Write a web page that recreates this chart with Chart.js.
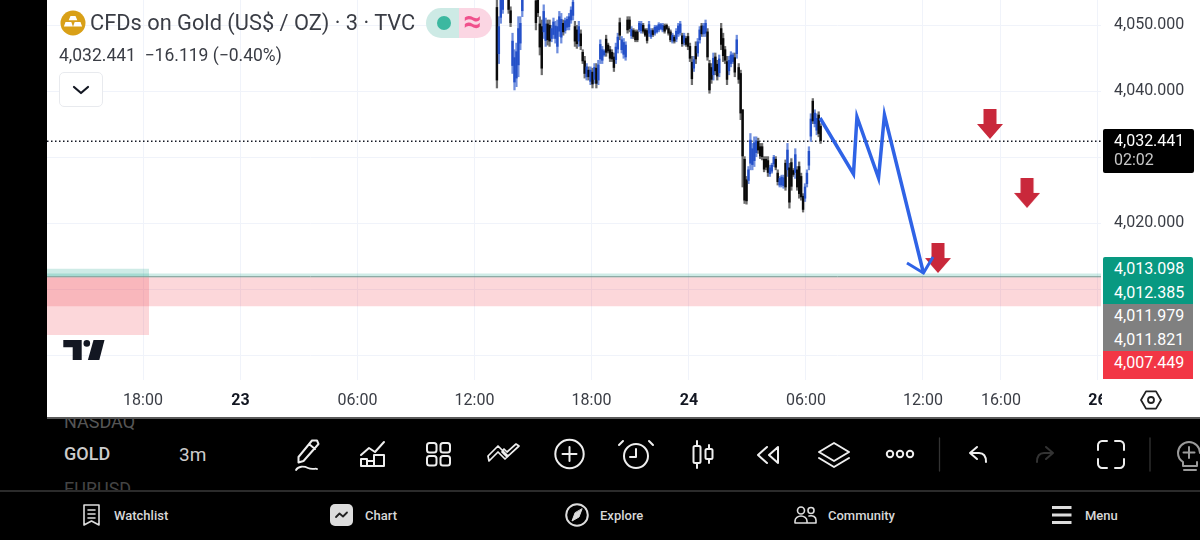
<!DOCTYPE html>
<html>
<head>
<meta charset="utf-8">
<title>CFDs on Gold</title>
<script src="https://cdn.jsdelivr.net/npm/chart.js@4"></script>
<style>
html, body { margin: 0; padding: 0; background: #000; width: 1200px; height: 540px; overflow: hidden; font-family: Roboto, sans-serif; }
#cpk { position: absolute; left: 47px; top: 0; }
.abs { position: absolute; white-space: nowrap; }
#titulo { left: 90px; top: 9px; font-size: 21.8px; line-height: 28px; color: #3a3d45; }
#precio { left: 59px; top: 44px; font-size: 17.5px; line-height: 22px; color: #3a3d45; }
#chevron { left: 59px; top: 72px; width: 42px; height: 33px; border: 1.5px solid #e8eaee; border-radius: 5px; background: #fff; }
#pill { left: 426px; top: 8px; width: 66px; height: 30px; border-radius: 15px; overflow: hidden; background: linear-gradient(90deg, #cdeae5 50%, #fbd6e3 50%); }
#ondas { left: 463px; top: 4px; font-size: 32px; line-height: 34px; font-weight: 700; color: #f0508c; }
#tapa { left: 1102px; top: 381px; width: 98px; height: 36px; background: #fff; }
#linea { left: 47px; top: 417px; width: 1153px; height: 1.5px; background: #5a5a5a; }
#tagNegro { left: 1103px; top: 129px; width: 91px; height: 44px; background: #000; border-radius: 2px; font-size: 16px; color: #fff; }
#tagNegro div { position: absolute; left: 11px; }
#tags { left: 1103px; top: 257px; width: 90px; height: 122px; overflow: hidden; border-radius: 2px 2px 0 0; }
#tags div { height: 23.6px; line-height: 23.6px; padding-left: 11px; font-size: 16px; color: #fff; }
#lista { left: 0; top: 418px; width: 1200px; height: 72px; overflow: hidden; font-size: 18px; }
#lista div { position: absolute; left: 64px; white-space: nowrap; }
#sep { left: 0; top: 490px; width: 1200px; height: 1.5px; background: #2b2b2b; }
.nav { top: 507px; font-size: 13px; line-height: 17px; font-weight: 500; color: #d8d8d8; }
svg { position: absolute; left: 0; top: 0; }
</style>
</head>
<body>
<canvas id="cpk" width="1153" height="417"></canvas>

<div class="abs" id="titulo">CFDs on Gold (US$ / OZ) · 3 · TVC</div>
<div class="abs" id="precio">4,032.441 &nbsp;−16.119 (−0.40%)</div>
<div class="abs" id="chevron"></div>
<div class="abs" id="pill"></div>
<div class="abs" id="ondas">≈</div>
<div class="abs" id="tapa"></div>
<div class="abs" id="linea"></div>

<div class="abs" id="tagNegro"><div style="top:1px;line-height:21px">4,032.441</div><div style="top:20px;line-height:21px;color:#c8c8c8">02:02</div></div>
<div class="abs" id="tags">
  <div style="background:#089981">4,013.098</div>
  <div style="background:#089981">4,012.385</div>
  <div style="background:#808080">4,011.979</div>
  <div style="background:#808080">4,011.821</div>
  <div style="background:#f23645">4,007.449</div>
  <div style="background:#f23645">4,006.918</div>
</div>

<div class="abs" id="lista">
  <div style="top:-7px;color:#555">NASDAQ</div>
  <div style="top:25px;color:#ccc;font-weight:500">GOLD</div>
  <div style="top:25px;left:179px;color:#ccc;font-size:19px">3m</div>
  <div style="top:60px;color:#444">EURUSD</div>
</div>
<div class="abs" id="sep"></div>
<div class="abs nav" style="left:114px">Watchlist</div>
<div class="abs nav" style="left:365px">Chart</div>
<div class="abs nav" style="left:600px">Explore</div>
<div class="abs nav" style="left:828px">Community</div>
<div class="abs nav" style="left:1085px">Menu</div>

<svg width="1200" height="540" fill="none" stroke="#eee" stroke-width="2" stroke-linecap="round" stroke-linejoin="round">
  <!-- leyenda -->
  <circle cx="73" cy="23" r="12.5" fill="#d9a017" stroke="none"/>
  <g fill="#fff" stroke="none">
    <path d="M70.5 16h5l1.8 4.2h-8.6zM65.5 22h5.8l1.6 4.5h-9zM74.7 22h5.8l1.6 4.5h-9z"/>
  </g>
  <circle cx="444" cy="23" r="7" fill="#3cb8a0" stroke="none"/>
  <path d="M74 87l7 6 7-6" stroke="#131722" stroke-width="2.2"/>
  <!-- logo -->
  <g fill="#131722" stroke="none">
    <path d="M63.3 340h18.4v20h-9v-12.7h-9.4z"/>
    <circle cx="86.8" cy="343.4" r="3.3"/>
    <path d="M93.5 340h11l-5.2 20h-11.4z"/>
  </g>
  <!-- ajustes -->
  <path d="M1141 400l5-8.6h10l5 8.6-5 8.6h-10z" stroke="#222" stroke-width="1.8"/>
  <circle cx="1151" cy="400" r="3" stroke="#222" stroke-width="1.8"/>
  <!-- barra de herramientas -->
  <path d="M312 440.5l5-0 1.5 3.5-15 17-5 1.5 0-5.5zM309 444l6 5"/>
  <path d="M296 470c2-4 8-4 12-2s8 0 9 1" stroke-width="1.8"/>
  <path d="M361 455l8-7 6 4 9-10"/>
  <path d="M361 466v-7h6v7zM367 466v-5h7v5zM374 466v-11h10v11z"/>
  <rect x="427" y="443" width="9.5" height="9.5" rx="2.5"/><rect x="440.5" y="443" width="9.5" height="9.5" rx="2.5"/>
  <rect x="427" y="456" width="9.5" height="9.5" rx="2.5"/><rect x="440.5" y="456" width="9.5" height="9.5" rx="2.5"/>
  <path d="M489 461l9-9 7 7 3-3-10-10-10 10zM502 452l5 5 12-11-3-2-9 8-3-3z" stroke-width="1.7"/>
  <circle cx="569.5" cy="454" r="14.2"/><path d="M569.5 447v14M562.5 454h14"/>
  <circle cx="636" cy="456" r="12"/><path d="M636 449v8h-6M623 441l-4 4M649 441l4 4"/>
  <path d="M697 441v27M709 445v18"/><rect x="693.5" y="446" width="7" height="17" rx="1.5" fill="#000"/><rect x="705.5" y="449" width="7" height="10" rx="1.5" fill="#000"/>
  <path d="M767 447l-9 8 9 8M778 447l-9 8 9 8zM778 447v16"/>
  <path d="M834 443l15 9-15 9-15-9zM819 458l15 9 15-9"/>
  <circle cx="890" cy="454" r="3.2"/><circle cx="900" cy="454" r="3.2"/><circle cx="910" cy="454" r="3.2"/>
  <path d="M939.5 438v33M1150 438v33" stroke="#333" stroke-width="1.3"/>
  <path d="M977 447l-7 6 7 6M970 453h9c5 0 7 3 7 9"/>
  <path d="M1046 447l7 6-7 6M1053 453h-9c-5 0-7 3-7 9" stroke="#333"/>
  <path d="M1098 450v-5c0-2 2-4 4-4h5M1115 441h5c2 0 4 2 4 4v5M1124 459v5c0 2-2 4-4 4h-5M1107 468h-5c-2 0-4-2-4-4v-5"/>
  <path d="M1183 462c-3-2-5-5-5-9 0-6 5-11 11-11s11 5 11 11M1183 462v4h14v-4M1184 470h12M1189 447v11M1183.500 452.500h11" stroke="#9a9a9a"/>
  <!-- menu inferior -->
  <path d="M84 505h15v20l-7.500-4-7.500 4zM88 510h7M88 514h7M88 518h7" stroke-width="1.6" stroke="#ddd"/>
  <rect x="330" y="504" width="23" height="22" rx="5" fill="#ddd" stroke="none"/>
  <path d="M336 517l3.500-3.500 3.500 3 4-4" stroke="#222" stroke-width="1.8"/>
  <circle cx="577" cy="515" r="10.800" stroke="#ddd"/><path d="M582 509l-3 8-7 4 3-8z" fill="#ddd" stroke="#ddd" stroke-width="1"/>
  <circle cx="801" cy="510.500" r="3.500" stroke="#ddd" stroke-width="1.600"/><circle cx="811" cy="510.500" r="3" stroke="#ddd" stroke-width="1.600"/>
  <path d="M795 523v-2c0-3 3-5 6-5s6 2 6 5v2zM809 516c4-1 7 1 7 4v3h-9" stroke="#ddd" stroke-width="1.600"/>
  <path d="M1052 507.500h19.500M1052 515h19.500M1052 522.500h19.500" stroke="#ddd" stroke-width="2.800" stroke-linecap="butt"/>
</svg>

<script>
// escala de tiempo: una unidad = una vela de 3 minutos, 0 = 18:00 del dia 22
const xMin = -98.5;
const xMax = 982.6;
const yMin = 3996.26;
const yMax = 4053.83;

const xTickBars = [0, 100, 220, 340, 460, 560, 680, 800, 880, 979];
const xTickLabels = ['18:00', '23', '06:00', '12:00', '18:00', '24', '06:00', '12:00', '16:00', '26'];
const xTickBold = ['23', '24', '26'];

const yTickValues = [4000, 4010, 4020, 4030, 4040, 4050];
const yTickLabels = ['', '', '4,020.000', '', '4,040.000', '4,050.000'];

const lastPrice = 4032.441;

// velas, una cada dos barras desde firstBar
const firstBar = 363;
const candleHigh = [
  4055.0,4051.3,4054.7,4055.2,4056.2,4056.7,4054.8,4052.8,4048.8,4046.3,
  4047.3,4051.3,4051.3,4054.7,4057.2,4057.7,4058.2,4057.7,4057.2,4056.2,
  4054.7,4054.4,4051.3,4050.8,4053.1,4051.1,4050.8,4050.8,4050.0,4051.1,
  4050.6,4050.8,4052.1,4051.8,4050.8,4051.1,4051.3,4051.8,4052.8,4054.2,
  4050.6,4050.0,4050.6,4049.3,4046.3,4045.3,4044.2,4043.7,4043.7,4043.5,
  4044.2,4044.2,4044.7,4047.8,4046.8,4046.3,4048.5,4047.3,4046.8,4046.3,
  4045.8,4047.3,4048.8,4051.1,4048.3,4048.0,4047.5,4051.3,4051.3,4049.8,
  4049.5,4049.3,4049.3,4050.6,4050.6,4050.3,4049.5,4049.5,4050.6,4049.5,
  4049.5,4050.0,4050.0,4050.4,4050.3,4050.3,4050.2,4050.2,4049.8,4049.3,
  4048.8,4048.5,4049.5,4050.3,4050.6,4048.8,4048.8,4048.3,4048.8,4047.3,
  4045.3,4045.3,4047.5,4048.0,4049.8,4050.3,4050.3,4050.8,4049.5,4044.7,
  4044.2,4045.8,4045.8,4044.7,4045.5,4050.3,4048.8,4046.8,4045.3,4045.3,
  4046.0,4045.8,4045.8,4048.5,4044.2,4043.2,4037.2,4030.1,4027.1,4028.6,
  4033.6,4032.1,4033.1,4033.1,4032.9,4032.1,4032.1,4030.1,4030.1,4030.1,
  4028.8,4029.1,4030.3,4030.1,4028.1,4027.1,4027.3,4027.3,4029.6,4032.1,
  4029.1,4029.8,4028.3,4031.3,4028.6,4029.3,4027.6,4024.5,4026.0,4028.1,
  4031.6,4036.6,4038.9,4037.2,4036.6,4036.9,4035.1
];
const candleLow = [
  4040.5,4044.2,4050.3,4051.8,4054.4,4054.6,4051.8,4049.8,4042.7,4040.2,
  4040.7,4042.2,4046.3,4051.3,4054.7,4055.2,4055.7,4055.4,4055.0,4054.2,
  4049.3,4051.3,4045.5,4042.5,4048.0,4046.8,4047.0,4046.8,4047.5,4048.0,
  4047.3,4045.8,4048.3,4047.3,4048.5,4048.8,4049.3,4049.3,4050.3,4050.8,
  4046.8,4046.5,4046.8,4046.3,4044.2,4042.0,4041.7,4041.7,4041.0,4040.5,
  4041.2,4040.5,4041.0,4044.2,4044.2,4045.3,4045.3,4045.8,4044.5,4044.5,
  4043.0,4044.2,4045.8,4047.8,4045.8,4045.0,4044.7,4048.8,4049.0,4048.0,
  4048.0,4047.5,4047.5,4049.0,4048.8,4048.8,4048.3,4047.3,4048.3,4048.0,
  4048.3,4048.5,4048.8,4049.0,4049.3,4049.0,4048.8,4049.3,4048.5,4047.5,
  4047.3,4047.3,4047.5,4048.3,4048.5,4046.8,4047.0,4046.8,4046.3,4044.5,
  4041.0,4043.0,4044.2,4045.3,4047.3,4048.3,4048.3,4048.3,4044.7,4039.7,
  4041.2,4041.7,4042.5,4041.7,4042.2,4046.3,4044.5,4044.2,4041.0,4042.5,
  4043.7,4044.2,4042.2,4045.0,4041.2,4035.7,4025.5,4023.0,4022.9,4026.0,
  4028.1,4028.1,4028.6,4030.1,4030.6,4029.8,4029.6,4027.8,4028.1,4027.1,
  4027.1,4027.6,4028.6,4028.1,4025.8,4025.5,4025.5,4025.3,4025.0,4027.1,
  4022.3,4025.0,4027.1,4026.8,4025.0,4023.8,4023.5,4021.7,4023.3,4025.5,
  4028.1,4032.4,4035.1,4034.6,4033.4,4033.1,4032.1
];
const candleOpen = [
  4052.7,4045.7,4051.2,4052.4,4054.8,4056.2,4054.2,4052.2,4043.9,4041.4,
  4042.0,4044.0,4047.3,4052.2,4055.2,4057.2,4056.2,4057.2,4056.7,4055.8,
  4053.7,4053.8,4050.2,4049.8,4049.0,4047.7,4050.2,4050.0,4048.0,4048.6,
  4048.0,4046.8,4049.1,4048.2,4050.3,4049.2,4049.7,4049.8,4050.8,4051.5,
  4049.8,4049.3,4047.6,4048.7,4045.9,4044.6,4042.2,4043.2,4041.5,4042.9,
  4041.8,4043.5,4041.7,4044.9,4044.7,4045.5,4047.9,4047.0,4046.3,4045.9,
  4045.2,4044.8,4046.4,4050.4,4046.3,4045.6,4045.2,4050.8,4050.8,4048.4,
  4049.2,4049.0,4049.0,4049.3,4049.2,4050.0,4049.3,4049.2,4048.8,4048.3,
  4049.2,4048.8,4049.0,4049.3,4049.5,4049.3,4049.9,4050.0,4049.5,4049.0,
  4047.6,4048.2,4047.9,4048.7,4048.9,4048.4,4047.4,4048.0,4048.3,4046.8,
  4044.4,4043.5,4046.8,4045.8,4047.8,4049.9,4048.7,4048.8,4049.0,4044.2,
  4043.6,4042.5,4045.2,4044.1,4042.8,4049.5,4048.0,4046.3,4044.5,4043.1,
  4044.2,4044.5,4045.1,4045.7,4043.6,4042.7,4037.2,4029.7,4026.6,4026.5,
  4029.1,4028.9,4029.5,4030.7,4032.4,4031.6,4031.6,4029.7,4029.7,4029.5,
  4027.5,4027.9,4029.0,4029.7,4027.6,4025.8,4025.8,4025.7,4029.1,4028.1,
  4028.4,4029.2,4028.0,4027.7,4028.1,4028.6,4027.1,4024.1,4023.8,4026.0,
  4028.8,4033.2,4038.5,4035.1,4034.1,4036.4,4034.7
];
const candleClose = [
  4041.7,4049.8,4053.8,4054.6,4055.8,4055.1,4052.4,4050.4,4047.6,4045.1,
  4046.0,4049.5,4050.3,4053.8,4056.7,4055.7,4057.7,4055.9,4055.5,4054.6,
  4050.4,4051.9,4046.7,4043.5,4052.1,4050.2,4047.8,4047.6,4049.5,4050.5,
  4049.9,4049.8,4051.3,4050.9,4049.0,4050.7,4050.9,4051.3,4052.3,4053.5,
  4047.6,4047.2,4049.8,4046.9,4044.6,4042.7,4043.7,4042.2,4043.2,4041.1,
  4043.6,4041.2,4044.0,4047.1,4046.3,4046.1,4045.9,4046.1,4045.0,4044.9,
  4043.6,4046.7,4048.2,4048.5,4047.8,4047.4,4047.0,4049.3,4049.5,4049.4,
  4048.3,4047.8,4047.8,4050.3,4050.2,4049.1,4048.5,4047.7,4050.1,4049.2,
  4048.6,4049.7,4049.8,4050.1,4050.1,4050.0,4049.1,4049.5,4048.8,4047.8,
  4048.5,4047.6,4049.1,4049.9,4050.2,4047.2,4048.4,4047.1,4046.8,4045.0,
  4041.9,4044.8,4044.9,4047.5,4049.3,4048.7,4049.9,4050.3,4045.2,4040.2,
  4041.8,4045.0,4043.1,4042.3,4044.9,4047.1,4045.4,4044.7,4041.8,4044.7,
  4045.5,4045.5,4042.9,4047.8,4041.8,4036.7,4030.2,4023.5,4023.4,4028.1,
  4032.6,4031.3,4032.2,4032.5,4031.1,4030.2,4030.1,4028.2,4028.5,4027.7,
  4028.4,4028.8,4030.0,4028.5,4026.3,4026.8,4027.0,4026.9,4025.5,4031.1,
  4023.2,4025.6,4027.4,4030.4,4025.5,4024.5,4024.0,4022.1,4025.5,4027.6,
  4030.9,4035.8,4035.5,4036.7,4035.9,4033.6,4032.5
];

// linea dibujada a mano
const trazoBars = [694.4, 728.7, 732.3, 754.4, 760.5, 800.5];
const trazoPrices = [4035.95, 4027.47, 4036.11, 4026.86, 4036.41, 4012.47];
const puntaBars = [783.6, 800.5, 810.3];
const puntaPrices = [4013.99, 4012.47, 4014.9];

// flechas rojas
const flechaBars = [868.7, 906.7, 815.4];
const flechaPrices = [4035.05, 4024.6, 4014.74];

// zonas
const zoneLeftEnd = 6.2;
const tealTop = 4012.385;
const tealBottom = 4011.979;
const tealLeftTop = 4013.098;
const pinkTop = 4011.821;
const pinkBottom = 4007.449;
const pinkLeftBottom = 4003.07;

var candleBars = [];
for (var i = 0; i < candleHigh.length; i++) {
    candleBars.push(firstBar + i * 2);
}

var wicks = [];
var bodies = [];
for (var i = 0; i < candleBars.length; i++) {
    wicks.push({ x: candleBars[i], y: [candleLow[i], candleHigh[i]] });
    bodies.push({ x: candleBars[i], y: [candleOpen[i], candleClose[i]] });
}

function toPoints(xs, ys) {
    return xs.map(function (x, i) { return { x: x, y: ys[i] }; });
}

function isUp(index) {
    return candleClose[index] > candleOpen[index];
}

function zone(x1, top, bottom, color, order) {
    return {
        type: 'line',
        data: [{ x: xMin, y: top }, { x: x1, y: top }],
        borderWidth: 0,
        pointRadius: 0,
        backgroundColor: color,
        fill: { value: bottom },
        order: order
    };
}

// icono de flecha para los puntos
var flecha = document.createElement('canvas');
flecha.width = 26;
flecha.height = 30;
var fc = flecha.getContext('2d');
fc.fillStyle = '#c9283b';
fc.beginPath();
fc.moveTo(6.5, 0);
fc.lineTo(19.5, 0);
fc.lineTo(19.5, 15);
fc.lineTo(26, 15);
fc.lineTo(13, 30);
fc.lineTo(0, 15);
fc.lineTo(6.5, 15);
fc.closePath();
fc.fill();

const dataOro = {
    datasets: [
        {
            type: 'line',
            data: toPoints(trazoBars, trazoPrices),
            borderColor: '#2f63e6',
            borderWidth: 3.5,
            pointRadius: 0,
            tension: 0,
            order: 1
        },
        {
            type: 'line',
            data: toPoints(puntaBars, puntaPrices),
            borderColor: '#2f63e6',
            borderWidth: 3,
            pointRadius: 0,
            tension: 0,
            order: 1
        },
        {
            type: 'line',
            data: toPoints(flechaBars, flechaPrices),
            showLine: false,
            pointStyle: flecha,
            pointRadius: 13,
            order: 2
        },
        {
            type: 'bar',
            data: bodies,
            barThickness: 1.7,
            grouped: false,
            backgroundColor: function (ctx) { return isUp(ctx.dataIndex) ? '#2450c8' : '#0a0a0a'; },
            order: 3
        },
        {
            type: 'bar',
            data: wicks,
            barThickness: 1.6,
            grouped: false,
            backgroundColor: function (ctx) { return isUp(ctx.dataIndex) ? '#6f8ede' : '#6e6e6e'; },
            order: 4
        },
        {
            type: 'line',
            data: [{ x: xMin, y: lastPrice }, { x: xMax, y: lastPrice }],
            borderColor: '#131722',
            borderWidth: 1.4,
            borderDash: [1.5, 2.5],
            pointRadius: 0,
            order: 5
        },
        {
            type: 'line',
            data: [{ x: xMin, y: 4011.9 }, { x: xMax, y: 4011.9 }],
            borderColor: '#6d8f88',
            borderWidth: 1,
            pointRadius: 0,
            order: 6
        },
        zone(xMax, tealTop, tealBottom, 'rgba(8, 153, 129, 0.2)', 7),
        zone(zoneLeftEnd, tealLeftTop, tealBottom, 'rgba(8, 153, 129, 0.2)', 8),
        zone(xMax, pinkTop, pinkBottom, 'rgba(242, 54, 69, 0.2)', 9),
        zone(zoneLeftEnd, pinkTop, pinkLeftBottom, 'rgba(242, 54, 69, 0.2)', 10)
    ]
};

const configOro = {
    type: 'bar',
    data: dataOro,
    plugins: [{
        id: 'fondo',
        beforeDraw: function (chart) {
            chart.ctx.save();
            chart.ctx.fillStyle = '#fff';
            chart.ctx.fillRect(0, 0, chart.width, chart.height);
            chart.ctx.restore();
        }
    }],
    options: {
        responsive: false,
        animation: false,
        events: [],
        layout: { padding: 0, autoPadding: false },
        plugins: {
            legend: { display: false },
            tooltip: { enabled: false }
        },
        scales: {
            x: {
                type: 'linear',
                min: xMin,
                max: xMax,
                offset: false,
                afterBuildTicks: function (scale) {
                    scale.ticks = xTickBars.map(function (v) { return { value: v }; });
                },
                afterFit: function (scale) {
                    scale.height = 37;
                    scale.paddingLeft = 0;
                    scale.paddingRight = 0;
                },
                grid: { color: '#f0f3fa', offset: false, drawTicks: false },
                border: { display: false },
                ticks: {
                    autoSkip: false,
                    maxRotation: 0,
                    padding: 11,
                    font: function (ctx) {
                        var bold = xTickBold.indexOf(xTickLabels[ctx.index]) >= 0;
                        return { family: 'Roboto', size: 16, weight: bold ? '700' : '400' };
                    },
                    color: function (ctx) {
                        return xTickBold.indexOf(xTickLabels[ctx.index]) >= 0 ? '#131722' : '#3a3d45';
                    },
                    callback: function (value, index) { return xTickLabels[index]; }
                }
            },
            y: {
                type: 'linear',
                position: 'right',
                min: yMin,
                max: yMax,
                afterBuildTicks: function (scale) {
                    scale.ticks = yTickValues.map(function (v) { return { value: v }; });
                },
                afterFit: function (scale) {
                    scale.width = 99;
                    scale.paddingTop = 0;
                    scale.paddingBottom = 0;
                },
                grid: { color: '#f0f3fa', drawTicks: false },
                border: { display: false },
                ticks: {
                    padding: 13,
                    font: { family: 'Roboto', size: 16 },
                    color: '#3a3d45',
                    callback: function (value, index) { return yTickLabels[index]; }
                }
            }
        }
    }
};

const chartOro = new Chart(document.getElementById('cpk'), configOro);
</script>
</body>
</html>
